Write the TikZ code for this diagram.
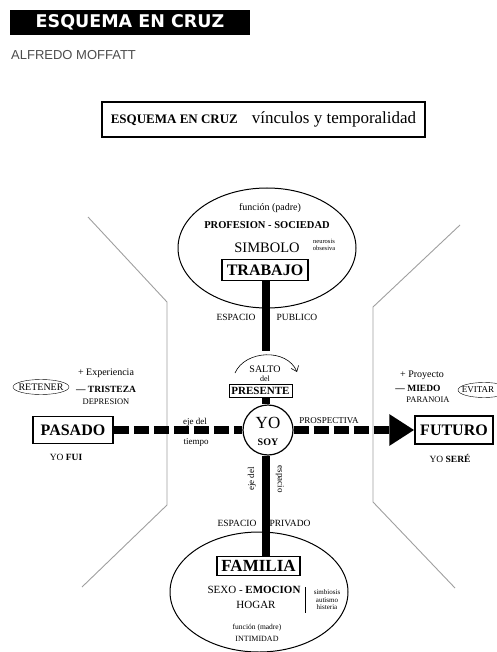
\documentclass[tikz,border=0pt]{standalone}
\usepackage{fontspec}
\setmainfont{Liberation Serif}
\newfontfamily\headfont{DejaVu Sans}
\newfontfamily\authorfont{Liberation Sans}
\usetikzlibrary{arrows.meta}
\newcommand\fsz[1]{\fontsize{#1}{#1}\selectfont}
\tikzset{
  caja/.style={draw, fill=white, line width=1.3pt, inner sep=0pt, font=\bfseries\fsz{16}},
  barra/.style={line width=8pt},
  tiempo/.style={line width=8pt, dash pattern=on 15pt off 5pt},
  borde/.style={draw=gray!75, line width=0.9pt},
  chico/.style={inner sep=0pt, font=\fsz{9}}
}
\begin{document}
\begin{tikzpicture}[x=1pt,y=-1pt]
\useasboundingbox (0,0) rectangle (497,652);
% Header
\node[fill=black, text=white, minimum width=240pt, minimum height=25pt, inner sep=0pt,
  font=\headfont\bfseries\fsz{17.5}] (cabecera) at (130,22.5) {ESQUEMA EN CRUZ};
\node[anchor=west, inner sep=0pt, text=black!70, font=\authorfont\fsz{13}] (autor) at (11,55) {ALFREDO MOFFATT};
% Title
\node[draw, line width=1.5pt, minimum width=323pt, minimum height=35pt, inner sep=0pt] (titulo) at (263.5,119.5)
  {{\bfseries\fsz{13}ESQUEMA EN CRUZ}\hspace{14pt}{\fsz{17}vínculos y temporalidad}};
% Brackets
\draw[borde] (88,217) -- (167,302) -- (167,505) -- (82,587);
\draw[borde] (460,225) -- (373,307) -- (373,502) -- (455,588);
% Ellipses
\draw[line width=1pt] (267,248) ellipse [x radius=89, y radius=60];
\draw[line width=1pt] (259,592) ellipse [x radius=89, y radius=60];
% Trabajo
\node[chico, font=\fsz{10}] (fpadre) at (270,208) {función (padre)};
\node[chico, font=\bfseries\fsz{10.5}] (profesion) at (267,225) {PROFESION - SOCIEDAD};
\node[chico, font=\fsz{14.5}] (simbolo) at (267,248) {SIMBOLO};
\node[chico, font=\fsz{6.5}, align=center] (neurosis) at (324,245) {neurosis\\[1pt]obsesiva};
\node[caja, minimum width=86pt, minimum height=21pt] (trabajo) at (265,270) {TRABAJO};
\node[chico, font=\fsz{9.5}] (espub) at (236,317) {ESPACIO};
\node[chico, font=\fsz{9.5}] (pub) at (297,317) {PUBLICO};
% Presente
\coordinate (corte) at (266,351);
\node[chico, font=\fsz{10}] (salto) at (265,369) {SALTO};
\node[chico, font=\fsz{8}] (del) at (265,379) {del};
\coordinate (saltoA) at (235,373);
\coordinate (saltoB) at (297,372);
\draw[semithick, -{Straight Barb[length=5pt,width=8pt]}] (saltoA) .. controls (245,350) and (287,348) .. (saltoB);
\node[caja, line width=1pt, font=\bfseries\fsz{11}, minimum width=63pt, minimum height=13pt] (presente) at (260.5,391) {PRESENTE};
\node[draw, circle, line width=1.2pt, minimum size=50pt, inner sep=0pt] (yo) at (268,430) {};
\node[chico, font=\fsz{17}] (yotxt) at (268,423) {YO};
\node[chico, font=\bfseries\fsz{10}] (soy) at (268,442) {SOY};
% Pasado
\node[chico, font=\fsz{10}] (exper) at (106,373) {+ Experiencia};
\node[chico, font=\bfseries\fsz{9.5}] (tristeza) at (106,389) {--- TRISTEZA};
\node[chico, font=\fsz{8.5}] (depresion) at (106,402) {DEPRESION};
\node[chico, font=\fsz{10}] (retener) at (41,387) {RETENER};
\draw (retener) ellipse [x radius=28, y radius=7.5];
\node[caja, minimum width=80pt, minimum height=27pt, line width=1.5pt] (pasado) at (73,430) {PASADO};
\node[chico, font=\fsz{9.5}] (fui) at (66,457) {YO \textbf{FUI}};
\node[chico] (eje) at (195,422) {eje del};
\node[chico] (tiempo) at (196,442) {tiempo};
% Futuro
\node[chico, font=\fsz{10}] (proyecto) at (422,375) {+ Proyecto};
\node[chico, font=\bfseries\fsz{9.5}] (miedo) at (418,388) {--- MIEDO};
\node[chico, font=\fsz{8.5}] (paranoia) at (428,400) {PARANOIA};
\node[chico, font=\fsz{9}] (evitar) at (478,390) {EVITAR};
\draw (484,390) ellipse [x radius=26, y radius=7.5];
\node[caja, minimum width=78pt, minimum height=28pt, line width=1.5pt] (futuro) at (454,430) {FUTURO};
\node[chico] (prosp) at (329,421) {PROSPECTIVA};
\node[chico, font=\fsz{9.5}] (sere) at (450,458) {YO \textbf{SERÉ}};
% Familia
\node[chico, rotate=90] (ejeesp) at (252,479) {eje del};
\node[chico, rotate=-90] (espacio) at (280,479) {espacio};
\node[chico, font=\fsz{9.5}] (espriv) at (237,523) {ESPACIO};
\node[chico, font=\fsz{9.5}] (priv) at (290,523) {PRIVADO};
\node[caja, font=\bfseries\fsz{17}, minimum width=83pt, minimum height=19pt] (familia) at (258.5,566) {FAMILIA};
\node[chico, font=\fsz{11}] (sexo) at (254,590) {SEXO - \textbf{EMOCION}};
\draw (305,587) -- (305,613);
\node[chico, font=\fsz{7}, align=center] (simbiosis) at (327,600) {simbiosis\\[0.5pt]autismo\\[0.5pt]histeria};
\node[chico, font=\fsz{11}] (hogar) at (256,605) {HOGAR};
\node[chico, font=\fsz{7.5}] (fmadre) at (257,628) {función (madre)};
\node[chico, font=\fsz{8}] (intimidad) at (257,639) {INTIMIDAD};
% Axes
\draw[barra] (trabajo.south -| corte) -- (corte);
\draw[barra] (presente.south -| corte) -- (yo.north -| corte);
\draw[barra] (yo.south -| corte) -- (familia.north -| corte);
\draw[tiempo] (pasado.east) -- (yo.west);
\draw[tiempo, -{Triangle[length=25pt,width=30pt]}] (yo.east) -- (futuro.west);
\end{tikzpicture}
\end{document}
